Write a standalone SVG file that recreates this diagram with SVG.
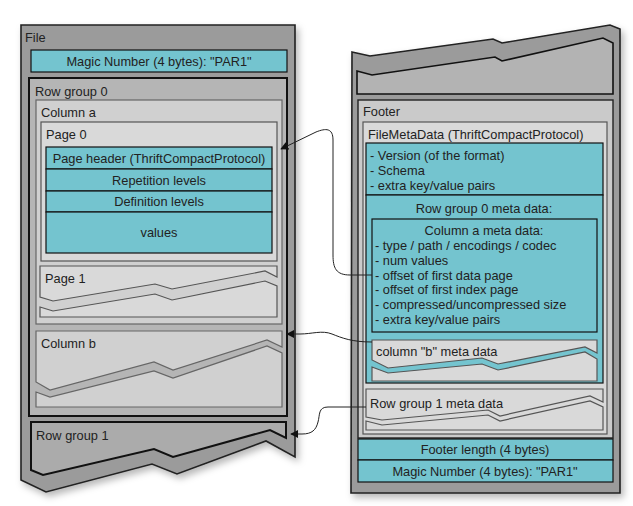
<svg xmlns="http://www.w3.org/2000/svg" width="633" height="506" viewBox="0 0 633 506">
<defs>
<filter id="sh" x="-10%" y="-10%" width="130%" height="130%">
<feDropShadow dx="3" dy="4" stdDeviation="3.5" flood-color="#000" flood-opacity="0.28"/>
</filter>
<marker id="arr" viewBox="0 0 10 10" refX="9" refY="5" markerWidth="8" markerHeight="8" markerUnits="userSpaceOnUse" orient="auto">
<path d="M0,0 L10,5 L0,10 Z" fill="#111"/>
</marker>
<style>
text{font-family:"Liberation Sans",Arial,sans-serif;font-size:12.8px;fill:#222}
.c{text-anchor:middle}
.outer{fill:#9b9b9b;stroke:#222;stroke-width:1.6}
.rg{fill:#b5b5b5;stroke:#111;stroke-width:2}
.col{fill:#d0d0d0;stroke:#666;stroke-width:1.2}
.pg{fill:#d9d9d9;stroke:#555;stroke-width:1.2}
.teal{fill:#74c4cf;stroke:#111;stroke-width:1.2}
.conn{fill:none;stroke:#222;stroke-width:1}
</style>
</defs>

<g id="file">
<path class="outer" filter="url(#sh)" d="M21,25 L295,25 L295,457 L266,441 L177,474 L152,464 L46,492 L21,480 Z"/>
<text x="25" y="42">File</text>
</g>
<g id="magic-left">
<rect class="teal" x="31" y="50" width="256" height="22"/>
<text class="c" x="159" y="66">Magic Number (4 bytes): "PAR1"</text>
</g>
<g id="rowgroup0">
<rect class="rg" x="29" y="78" width="258" height="338"/>
<text x="35" y="96">Row group 0</text>
</g>
<g id="column-a">
<rect class="col" x="36" y="100" width="246" height="224"/>
<text x="41" y="117">Column a</text>
</g>
<g id="page0">
<rect class="pg" x="41" y="122" width="236" height="139"/>
<text x="46" y="139">Page 0</text>
<rect class="teal" x="46" y="147" width="226" height="22"/>
<text class="c" x="159" y="163">Page header (ThriftCompactProtocol)</text>
<rect class="teal" x="46" y="169" width="226" height="22"/>
<text class="c" x="159" y="185">Repetition levels</text>
<rect class="teal" x="46" y="191" width="226" height="21"/>
<text class="c" x="159" y="206">Definition levels</text>
<rect class="teal" x="46" y="212" width="226" height="41"/>
<text class="c" x="159" y="237">values</text>
</g>
<g id="page1">
<path class="pg" d="M40,266 L277,266 L277,277 L265,271 L172,289 L155,284 L53,301 L40,297 Z"/>
<path class="pg" d="M40,307 L53,311 L155,294 L172,300 L265,281 L277,286 L277,317 L40,317 Z"/>
<text x="45" y="283">Page 1</text>
</g>
<g id="column-b">
<path class="col" d="M36,331 L282,331 L282,347 L267,340 L173,370 L154,362 L50,390 L36,382 Z"/>
<path class="col" d="M36,392 L50,397 L154,371 L173,378 L267,346 L282,353 L282,407 L36,407 Z"/>
<text x="41" y="348">Column b</text>
</g>
<g id="rowgroup1">
<path d="M31,422 L286,422 L286,438 L270,430 L173,457 L154,449 L43,475 L31,470 Z" fill="#ababab" stroke="#111" stroke-width="2"/>
<text x="36" y="440">Row group 1</text>
</g>

<g id="file-end">
<path class="outer" filter="url(#sh)" d="M352,52 L370,56 L493,39 L502,43 L610,25 L620,29 L620,493 L351,493 Z"/>
<path d="M357,71 L372,75 L495,57 L502,61 L603,38 L613,43 L613,94 L357,94 Z" fill="#b3b3b3" stroke="#111" stroke-width="1.6"/>
</g>
<g id="footer">
<rect x="358" y="100" width="255" height="338" fill="#cacaca" stroke="#222" stroke-width="1.4"/>
<text x="363" y="116">Footer</text>
</g>
<g id="filemetadata">
<rect x="363" y="122" width="244" height="312" fill="#d9d9d9" stroke="#555" stroke-width="1.2"/>
<text x="368" y="139">FileMetaData (ThriftCompactProtocol)</text>
<rect class="teal" x="366" y="143" width="237" height="52"/>
<text x="370" y="160">- Version (of the format)</text>
<text x="370" y="175">- Schema</text>
<text x="370" y="190">- extra key/value pairs</text>
</g>
<g id="rowgroup0-meta">
<rect class="teal" x="366" y="195" width="237" height="188"/>
<text class="c" x="484" y="213">Row group 0 meta data:</text>
</g>
<g id="column-a-meta">
<rect class="teal" x="372" y="219" width="225" height="113"/>
<text class="c" x="484" y="235">Column a meta data:</text>
<text x="375" y="250">- type / path / encodings /  codec</text>
<text x="375" y="265">- num values</text>
<text x="375" y="280">- offset of first data page</text>
<text x="375" y="294">- offset of first index page</text>
<text x="375" y="309">- compressed/uncompressed size</text>
<text x="375" y="324">- extra key/value pairs</text>
</g>
<g id="column-b-meta">
<path class="pg" d="M372,340 L597,340 L597,353 L585,347 L498,364 L482,358 L388,368 L372,360 Z"/>
<path class="pg" d="M372,367 L388,373 L482,364 L498,370 L585,352 L597,359 L597,381 L372,381 Z"/>
<text x="376" y="356">column "b" meta data</text>
</g>
<g id="rowgroup1-meta">
<path class="pg" d="M366,389 L603,389 L603,402 L590,396 L500,416 L488,410 L382,420 L366,417 Z"/>
<path class="pg" d="M366,421 L382,425 L488,415 L500,421 L590,401 L603,407 L603,430 L366,430 Z"/>
<text x="370" y="408">Row group 1 meta data</text>
</g>
<g id="footer-length">
<rect class="teal" x="358" y="439" width="255" height="21"/>
<text class="c" x="485" y="454">Footer length (4 bytes)</text>
</g>
<g id="magic-right">
<rect class="teal" x="358" y="460" width="255" height="22"/>
<text class="c" x="485" y="476">Magic Number (4 bytes): "PAR1"</text>
</g>

<g id="connectors">
<path class="conn" marker-end="url(#arr)" d="M372,275 L350,275 C336,275 333,268 333,255 L333,140 C333,128 326,128 316,132 L281,149"/>
<path class="conn" marker-end="url(#arr)" d="M372,342 C352,342 342,338 332,334 C322,330 312,334 300,334 L287,334"/>
<path class="conn" marker-end="url(#arr)" d="M366,407 L328,407 C318,407 320,415 318,422 C316,430 312,434 302,434 L291,434"/>
</g>
</svg>
